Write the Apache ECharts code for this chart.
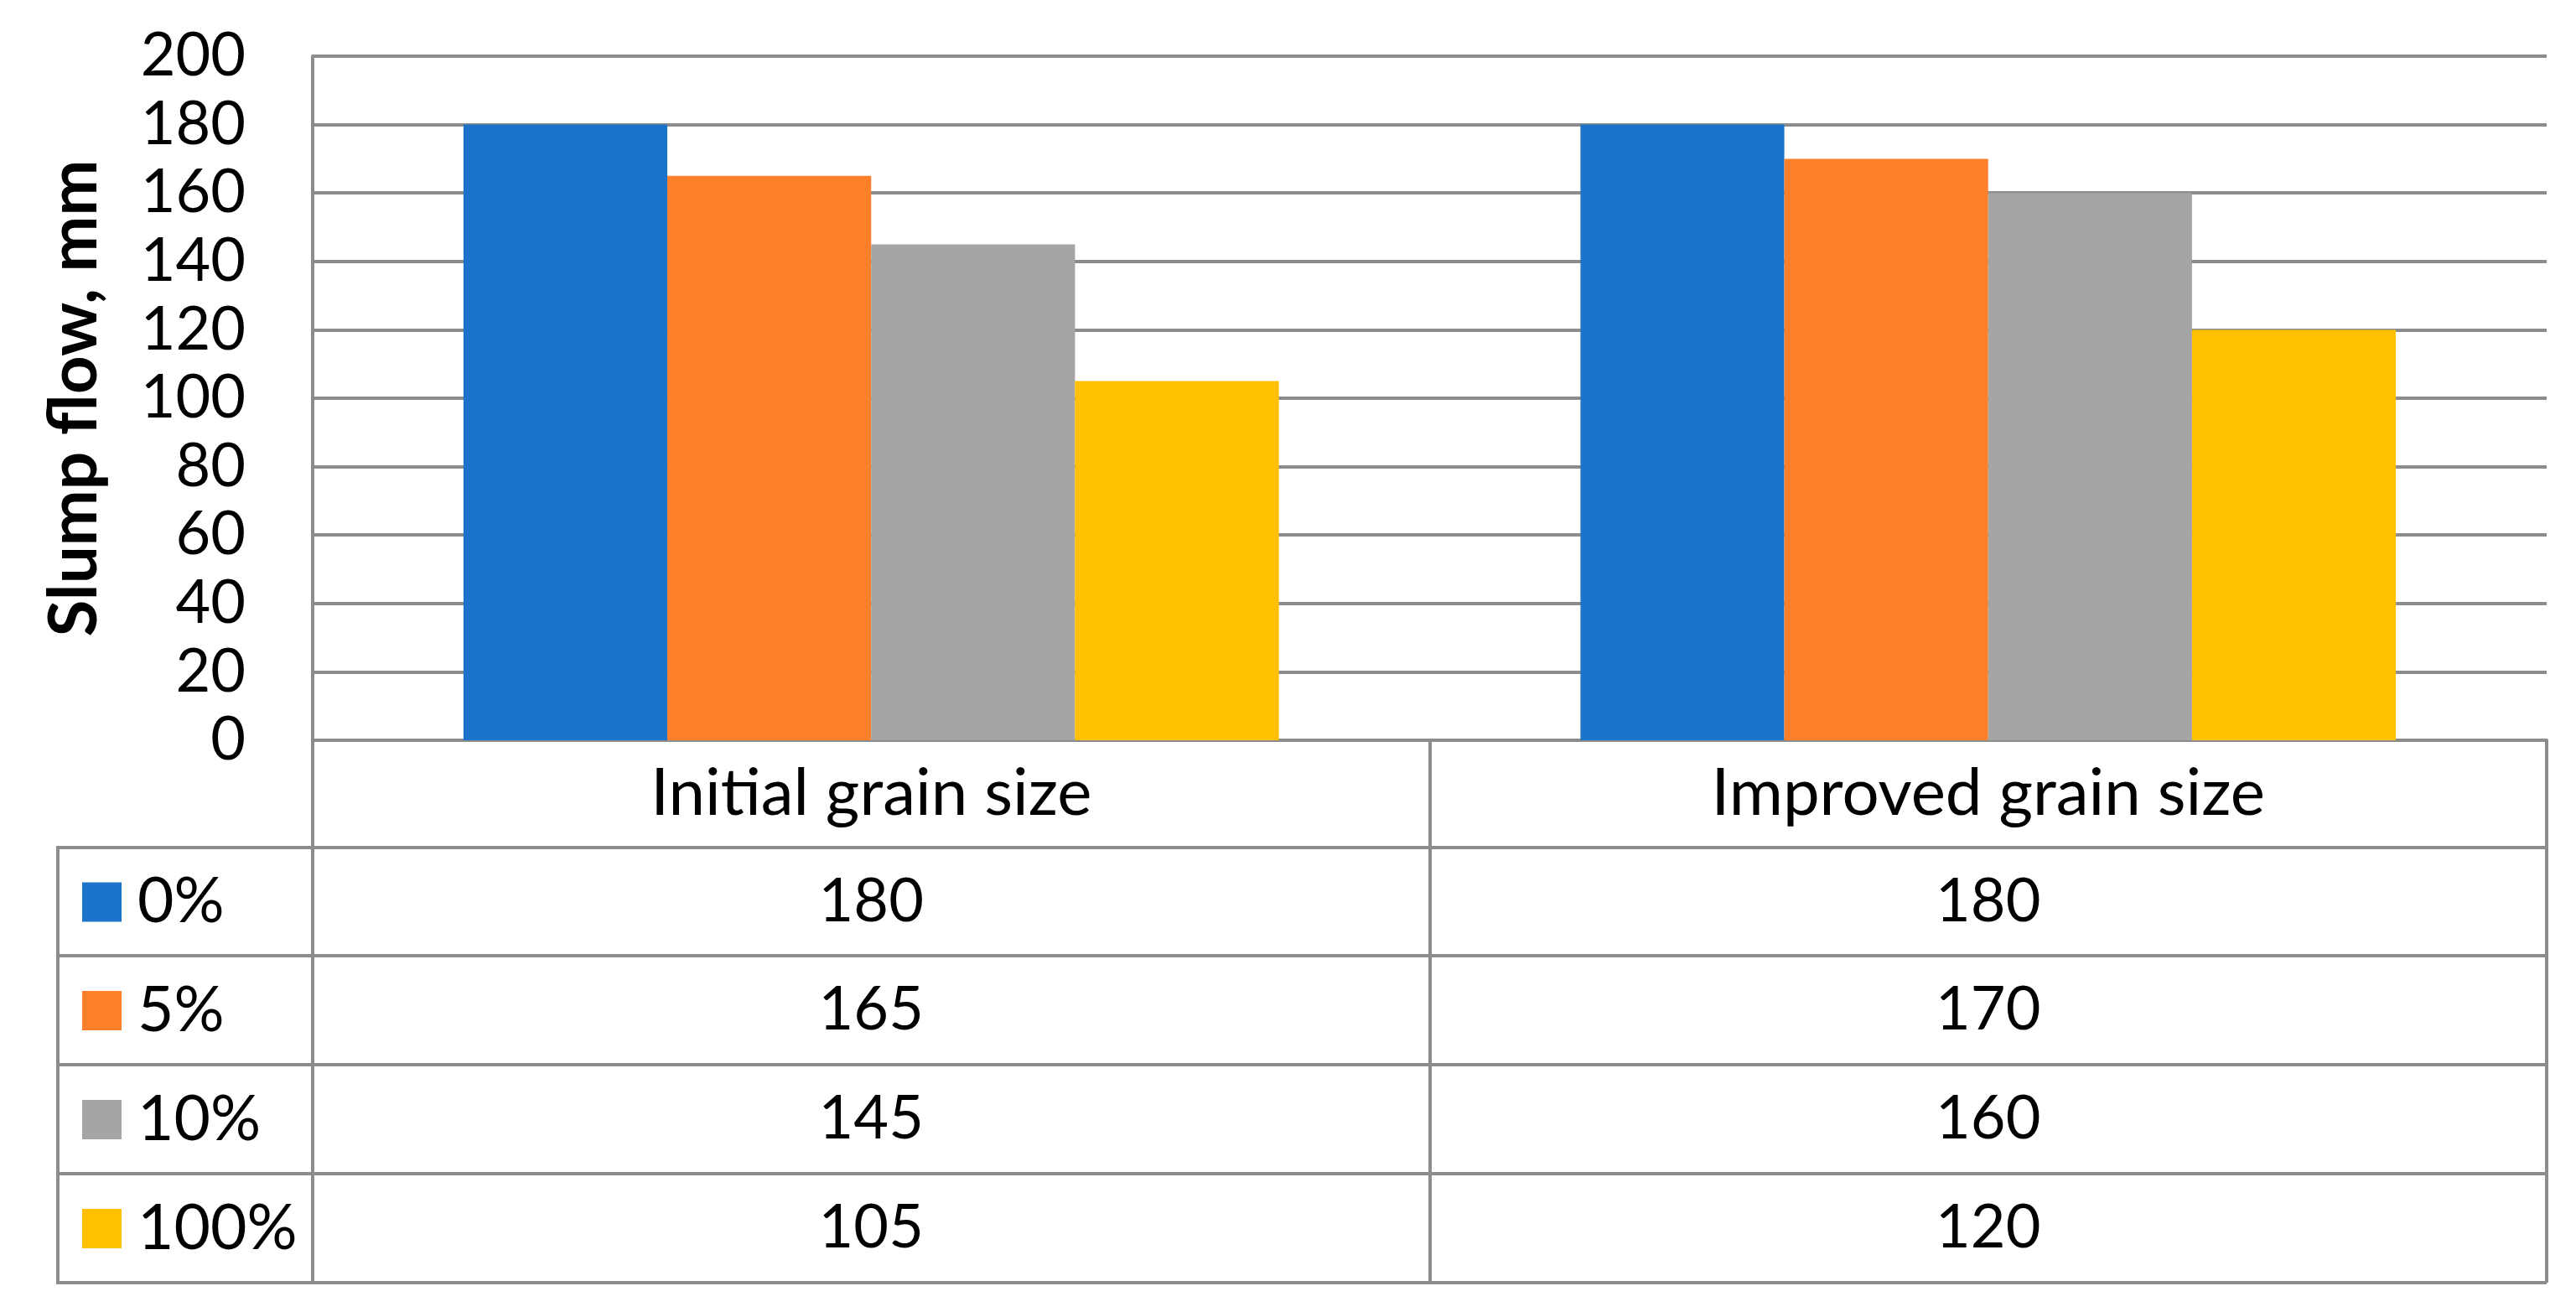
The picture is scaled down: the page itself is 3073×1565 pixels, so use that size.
<!DOCTYPE html>
<html>
<head>
<meta charset="utf-8">
<script src="https://cdn.jsdelivr.net/npm/echarts@6/dist/echarts.min.js"></script>
<style>
html,body{margin:0;padding:0;background:#fff;}
#chart{width:3073px;height:1565px;}
</style>
</head>
<body>
<div id="chart"></div>
<script>
const categories = ['Initial grain size', 'Improved grain size'];
const seriesNames = ['0%', '5%', '10%', '100%'];
const values0 = [180, 180];
const values5 = [165, 170];
const values10 = [145, 160];
const values100 = [105, 120];
const yMin = 0, yMax = 200, yInterval = 20;
const yTitle = 'Slump flow, mm';

const allValues = [values0, values5, values10, values100];
const colors = ['#1B74C9', '#FE7F2A', '#A5A5A5', '#FFC000'];
const lineColor = '#8C8C8C';
const lineW = 4;
const FONT = 'Lato';
const FS = 72;

// layout
const L = 373, R = 3038, T = 67, B = 883;
const tableLeft = 69;
const rowLines = [1011, 1140, 1270, 1400, 1530];
const tableBottom = rowLines[rowLines.length - 1];

const chart = echarts.init(document.getElementById('chart'));

const xAxes = [{
  type: 'category', data: categories, gridIndex: 0, position: 'bottom',
  boundaryGap: true,
  axisLine: { show: true, lineStyle: { color: lineColor, width: lineW } },
  axisTick: { show: true, interval: 0, length: tableBottom - B, lineStyle: { color: lineColor, width: lineW } },
  axisLabel: { margin: (rowLines[0] - B) / 2, verticalAlign: 'middle', color: '#000', fontFamily: FONT, fontSize: 78, interval: 0 }
}];
allValues.forEach((vals, i) => {
  const center = (rowLines[i] + rowLines[i + 1]) / 2;
  xAxes.push({
    type: 'category', data: categories, gridIndex: 0, position: 'bottom',
    offset: center - B,
    axisLine: { show: false }, axisTick: { show: false }, splitLine: { show: false },
    axisLabel: { margin: 0, verticalAlign: 'middle', color: '#000', fontFamily: FONT, fontSize: FS, interval: 0,
      formatter: (v, idx) => String(vals[idx]) }
  });
});

const legends = seriesNames.map((n, i) => {
  const center = (rowLines[i] + rowLines[i + 1]) / 2;
  return {
    orient: 'vertical', left: 98, top: center - 37,
    itemWidth: 47, itemHeight: 47, icon: 'rect', padding: 0,
    selectedMode: false,
    textStyle: { fontFamily: FONT, fontSize: 75, color: '#000', padding: [0, 0, 0, 14] },
    data: [n]
  };
});

const graphics = [];
rowLines.forEach(y => {
  graphics.push({ type: 'line', shape: { x1: tableLeft, y1: y, x2: R, y2: y }, style: { stroke: lineColor, lineWidth: lineW }, silent: true });
});
graphics.push({ type: 'line', shape: { x1: tableLeft, y1: rowLines[0] - 2, x2: tableLeft, y2: tableBottom + 2 }, style: { stroke: lineColor, lineWidth: lineW }, silent: true });

const option = {
  backgroundColor: '#fff',
  animation: false,
  color: colors,
  grid: { left: L, right: 3073 - R, top: T, bottom: 1565 - B, containLabel: false, outerBoundsMode: 'none' },
  legend: legends,
  xAxis: xAxes,
  yAxis: {
    type: 'value', min: yMin, max: yMax, interval: yInterval,
    axisLine: { show: true, lineStyle: { color: lineColor, width: lineW } },
    axisTick: { show: false },
    splitLine: { show: true, lineStyle: { color: lineColor, width: lineW } },
    axisLabel: { margin: 80, color: '#000', fontFamily: FONT, fontSize: FS },
    name: yTitle, nameLocation: 'middle', nameRotate: 90, nameGap: 244,
    nameTextStyle: { fontFamily: FONT, fontSize: 80, fontWeight: 'bold', color: '#000' }
  },
  series: seriesNames.map((n, i) => ({
    name: n, type: 'bar', xAxisIndex: 0, data: allValues[i],
    barGap: '0%', barCategoryGap: '27%',
    itemStyle: { color: colors[i] }
  })),
  graphic: graphics
};
chart.setOption(option);
</script>
</body>
</html>
